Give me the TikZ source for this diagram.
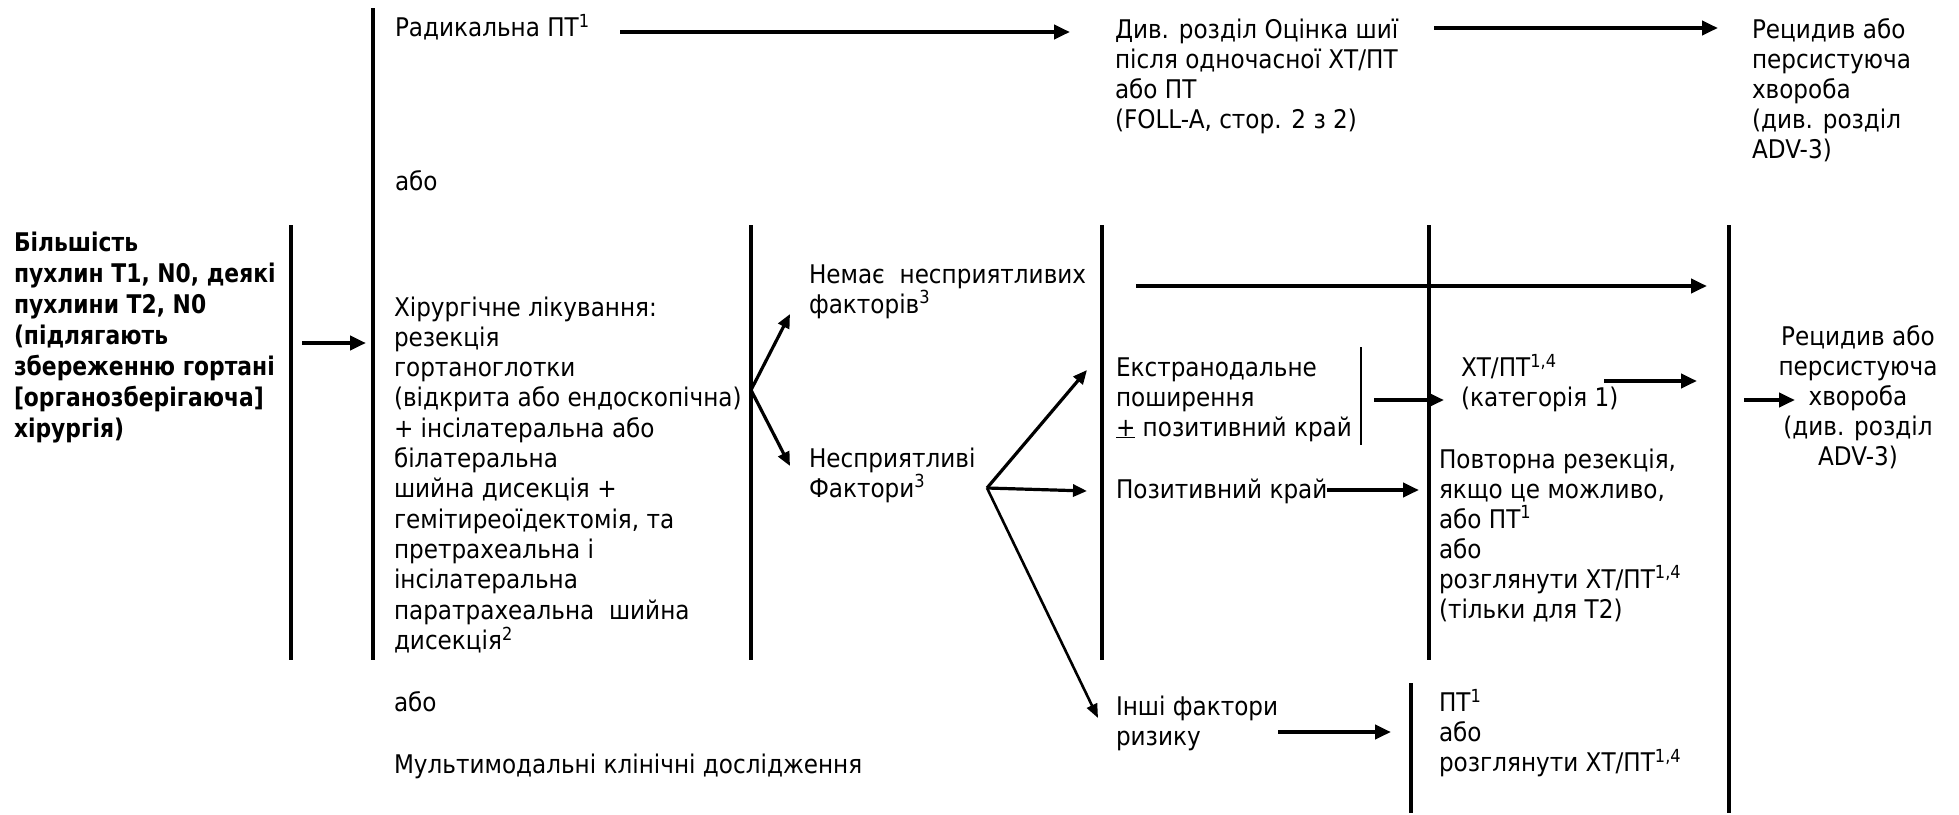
\documentclass[tikz,border=0pt]{standalone}
\usepackage{fontspec}
\setmainfont{DejaVu Sans}[FakeStretch=0.9]
\newfontfamily\bfam{DejaVu Sans}[FakeStretch=0.85]
\usetikzlibrary{arrows.meta}
\newcommand\tp{\rule{0pt}{22pt}}
\newcommand\fs{\fontsize{25.7}{30}\selectfont}
\newcommand\sps[1]{\textsuperscript{#1}}
\begin{document}
\begin{tikzpicture}[x=1pt,y=-1pt,
 txt/.style={anchor=north west, inner sep=0pt, outer sep=0pt, align=left, font=\fs},
 ctxt/.style={anchor=north, inner sep=0pt, outer sep=0pt, align=center, font=\fs},
 bar/.style={line width=3.4pt},
 thickbar/.style={line width=4.4pt},
 arr/.style={line width=4.2pt, -{Triangle[length=16pt,width=14pt]}},
 darr/.style={line width=3.2pt, -{Triangle[length=14pt,width=12pt]}},
 thinarr/.style={line width=2.6pt, -{Triangle[length=14pt,width=11pt]}},
]
\useasboundingbox (0,0) rectangle (1959,814);

% texts
\node[txt, font=\fontsize{25.7}{31}\selectfont\bfam\bfseries] (pat) at (14,229) {\tp Більшість\\ пухлин T1, N0, деякі\\ пухлини T2, N0\\ (підлягають\\ збереженню гортані\\{}[органозберігаюча]\\ хірургія)};
\node[txt] (rad) at (395,14) {\tp Радикальна ПТ\sps{1}};
\node[txt] (foll) at (1115,16) {\tp Див. розділ Оцінка шиї\\ після одночасної ХТ/ПТ\\ або ПТ\\ (FOLL-A, стор. 2 з 2)};
\node[txt] (rectop) at (1752,16) {\tp Рецидив або\\ персистуюча\\ хвороба\\ (див. розділ\\ ADV-3)};
\node[txt] (abo1) at (395,168) {\tp або};
\node[txt, font=\fontsize{25.7}{30.3}\selectfont] (surg) at (394,294) {\tp Хірургічне лікування:\\ резекція\\ гортаноглотки\\ (відкрита або ендоскопічна)\\ + інсілатеральна або\\ білатеральна\\ шийна дисекція +\\ гемітиреоїдектомія, та\\ претрахеальна і\\ інсілатеральна\\ паратрахеальна\ \ шийна\\ дисекція\sps{2}};
\node[txt] (none) at (809,261) {\tp Немає\ \ несприятливих\\ факторів\sps{3}};
\node[txt] (adv) at (809,445) {\tp Несприятливі\\ Фактори\sps{3}};
\node[txt] (ene) at (1116,354) {\tp Екстранодальне\\ поширення\\ \underline{+} позитивний край};
\node[txt] (pos) at (1116,476) {\tp Позитивний край};
\node[txt] (oth) at (1116,693) {\tp Інші фактори\\ ризику};
\node[txt] (crt) at (1461,354) {\tp ХТ/ПТ\sps{1,4}\\ (категорія 1)};
\node[txt] (rer) at (1439,446) {\tp Повторна резекція,\\ якщо це можливо,\\ або ПТ\sps{1}\\ або\\ розглянути ХТ/ПТ\sps{1,4}\\ (тільки для T2)};
\node[txt] (rt) at (1439,689) {\tp ПТ\sps{1}\\ або\\ розглянути ХТ/ПТ\sps{1,4}};
\node[ctxt] (recmid) at (1858,323) {\tp Рецидив або\\ персистуюча\\ хвороба\\ (див. розділ\\ ADV-3)};
\node[txt] (abo2) at (394,689) {\tp або};
\node[txt] (multi) at (394,751) {\tp Мультимодальні клінічні дослідження};

% brackets
\draw[bar] (291,225) -- (291,660);
\draw[thickbar] (373,8) -- (373,660);
\draw[bar] (751,225) -- (751,660);
\draw[bar] (1102,225) -- (1102,660);
\draw[bar] (1429,225) -- (1429,660);
\draw[thickbar] (1729,225) -- (1729,813);
\draw[line width=2.6pt] (1361,347) -- (1361,445);
\draw[bar] (1411,683) -- (1411,813);

% connector end points
\coordinate (a1s) at (302,343);  \coordinate (a1e) at (366,343);
\coordinate (a2s) at (620,32);   \coordinate (a2e) at (1070,32);
\coordinate (a3s) at (1434,28);  \coordinate (a3e) at (1718,28);
\coordinate (f1) at (751,390);   \coordinate (f1u) at (790,314); \coordinate (f1d) at (790,466);
\coordinate (f2) at (987,488);   \coordinate (f2u) at (1087,370); \coordinate (f2m) at (1087,491); \coordinate (f2d) at (1098,718);
\coordinate (nos) at (1136,286); \coordinate (noe) at (1707,286);
\coordinate (ens) at (1374,400); \coordinate (ene2) at (1444,400);
\coordinate (crs) at (1604,381); \coordinate (cre) at (1697,381);
\coordinate (rcs) at (1744,400); \coordinate (rce) at (1795,400);
\coordinate (pss) at (1327,490); \coordinate (pse) at (1419,490);
\coordinate (ots) at (1278,732); \coordinate (ote) at (1391,732);

% connectors
\draw[arr] (a1s) -- (a1e);
\draw[arr] (a2s) -- (a2e);
\draw[arr] (a3s) -- (a3e);
\draw[darr] (f1) -- (f1u);
\draw[darr] (f1) -- (f1d);
\draw[darr] (f2) -- (f2u);
\draw[darr] (f2) -- (f2m);
\draw[thinarr] (f2) -- (f2d);
\draw[arr] (nos) -- (noe);
\draw[arr] (ens) -- (ene2);
\draw[arr] (crs) -- (cre);
\draw[arr] (rcs) -- (rce);
\draw[arr] (pss) -- (pse);
\draw[arr] (ots) -- (ote);
\end{tikzpicture}
\end{document}
